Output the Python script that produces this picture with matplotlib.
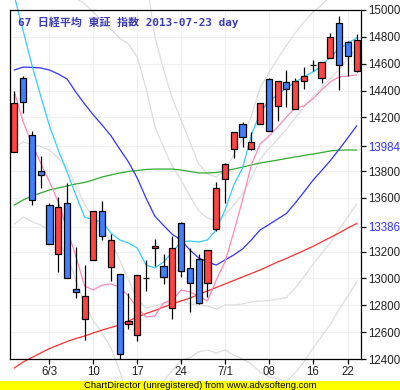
import matplotlib
matplotlib.use("Agg")
import matplotlib.pyplot as plt
from matplotlib.patches import Rectangle
import numpy as np

# ---- data ----
opens  = [13940, 14491, 14067, 13798, 13545, 13180, 13560, 12924, 12696, 13137,
          13500, 13083, 13031, 12658, 12577, 13007, 13225, 13093, 12780, 13411,
          13076, 13143, 12964, 13371, 13739, 13962, 14148, 13962, 14148, 14484,
          14287, 14461, 14265, 14469, 14590, 14491, 14640, 14905, 14764, 14546]
highs  = [14397, 14511, 14099, 13912, 13560, 13607, 13709, 13232, 13098, 13505,
          13579, 13331, 13031, 12889, 13024, 13137, 13294, 13180, 13316, 13421,
          13227, 13180, 13210, 13716, 13858, 14093, 14166, 14091, 14305, 14491,
          14469, 14553, 14491, 14573, 14628, 14610, 14826, 14955, 14771, 14821]
lows   = [13940, 14235, 13550, 13672, 13257, 13050, 13006, 12852, 12539, 13137,
          13286, 12983, 12402, 12621, 12536, 12909, 13093, 12956, 12696, 13013,
          12748, 12812, 12864, 13351, 13560, 13895, 13977, 13957, 14148, 14101,
          14175, 14280, 14265, 14414, 14548, 14454, 14640, 14404, 14511, 14536]
closes = [14305, 14317, 13585, 13769, 13257, 13532, 13006, 12899, 12869, 13505,
          13316, 13286, 12437, 12681, 13024, 13007, 13242, 13009, 13227, 13056,
          12964, 12819, 13210, 13672, 13850, 14093, 14052, 14014, 14305, 14101,
          14469, 14409, 14471, 14506, 14590, 14610, 14801, 14588, 14655, 14774]

line_cyan = [15104, 14844, 14590, 14359, 14136, 13957, 13793, 13622, 13458, 13436,
             13421, 13339, 13287, 13264, 13227, 13100, 13078, 13123, 13197, 13272,
             13279, 13272, 13287, 13361, 13510, 13696, 13823, 14069, 14233, 14322,
             14367, 14419, 14464, 14501, 14538, 14583, 14650, 14709, 14754, 14791]
line_pink = [14389, 14166, 14002, 13860, 13719, 13570, 13368, 13167, 12944, 12914,
             12951, 12959, 12936, 12869, 12780, 12713, 12720, 12817, 12840, 12914,
             12899, 12869, 12832, 12988, 13123, 13346, 13585, 13845, 14002, 14061,
             14128, 14203, 14270, 14285, 14337, 14404, 14464, 14501, 14508, 14516]
ma_blue = [14553, 14575, 14572, 14568, 14553, 14523, 14486, 14389, 14300, 14218,
           14143, 14064, 13964, 13868, 13748, 13599, 13465, 13395, 13328, 13287,
           13212, 13153, 13123, 13100, 13138, 13175, 13220, 13287, 13361, 13401,
           13443, 13484, 13562, 13644, 13730, 13803, 13878, 13961, 14048, 14136]
sd_blue = [574, 559, 574, 585, 596, 626, 656, 700, 745, 767,
           775, 790, 827, 879, 901, 820, 670, 581, 507, 447,
           402, 350, 328, 328, 335, 372, 410, 462, 529, 566,
           596, 626, 633, 633, 626, 618, 611, 596, 589, 581]
ma_green = [13547, 13585, 13614, 13637, 13659, 13674, 13689, 13704, 13715, 13734,
            13756, 13771, 13786, 13797, 13804, 13812, 13815, 13815, 13815, 13808,
            13797, 13786, 13786, 13789, 13801, 13815, 13830, 13845, 13860, 13871,
            13882, 13894, 13905, 13916, 13927, 13938, 13950, 13956, 13957, 13957]
ma_red = [12333, 12378, 12411, 12445, 12478, 12504, 12530, 12553, 12571, 12594,
          12616, 12635, 12653, 12683, 12713, 12739, 12761, 12787, 12810, 12832,
          12854, 12881, 12907, 12933, 12959, 12985, 13011, 13037, 13063, 13093,
          13123, 13149, 13179, 13208, 13238, 13272, 13305, 13339, 13376, 13409]

xtick_pos = [4, 9, 14, 19, 24, 29, 34, 38]
xtick_labels = ["6/3", "10", "17", "24", "7/1", "08", "16", "22"]
ytick_vals = [15000, 14800, 14600, 14400, 14200, 13984, 13800, 13600, 13386,
              13200, 13000, 12800, 12600, 12400]
ytick_blue = [13984, 13386]
title = "67 日経平均 東証 指数 2013-07-23 day"

# ---- figure ----
W, H = 400, 390
fig = plt.figure(figsize=(W / 100, H / 100), dpi=100)
fig.patch.set_facecolor("white")
ax = fig.add_axes([10 / W, 1 - 359 / H, 351 / W, 349 / H])
ax.set_xlim(-0.5, len(closes) - 0.5)
ax.set_ylim(12400, 15000)

x = np.arange(len(closes))
o = np.array(opens, float); c = np.array(closes, float)
hi = np.array(highs, float); lo = np.array(lows, float)

# grid
for yv in ytick_vals:
    ax.axhline(yv, color="#f0f0f0", lw=0.8, zorder=0)
for xv in xtick_pos:
    ax.axvline(xv, color="#f0f0f0", lw=0.8, zorder=0)

# indicator lines
mb = np.array(ma_blue, float); sd = np.array(sd_blue, float)
for k in (2, 1, -1, -2):
    ax.plot(x, mb + k * sd, color="#dddddd", lw=0.9, clip_on=False, zorder=1)
ax.plot(x, ma_red, color="#ff3030", lw=0.9, clip_on=False, zorder=1.5)
ax.plot(x, ma_green, color="#33aa33", lw=0.9, clip_on=False, zorder=1.5)
ax.plot(x, mb, color="#3333ff", lw=0.9, clip_on=False, zorder=1.5)
ax.plot(x, line_pink, color="#ff88bb", lw=0.9, clip_on=False, zorder=1.5)
ax.plot(x, line_cyan, color="#33ccff", lw=0.9, clip_on=False, zorder=1.5)

# candles
ax.vlines(x, lo, hi, color="black", lw=0.9, zorder=3)
colors = []
for oo, cc in zip(o, c):
    if cc > oo:
        colors.append("#ff4444")
    elif cc < oo:
        colors.append("#4080ff")
    else:
        colors.append("black")
ax.bar(x, np.abs(c - o), bottom=np.minimum(o, c), width=0.7, color=colors,
       edgecolor="black", linewidth=0.9, zorder=4)

# axes styling
for s in ax.spines.values():
    s.set_color("black"); s.set_linewidth(0.9)
ax.yaxis.tick_right()
ax.set_yticks(ytick_vals)
ax.set_yticklabels([str(v) for v in ytick_vals])
for lab, v in zip(ax.get_yticklabels(), ytick_vals):
    lab.set_color("#3333ff" if v in ytick_blue else "#222222")
ax.set_xticks(xtick_pos)
ax.set_xticklabels(xtick_labels)
ax.tick_params(axis="both", direction="out", length=3.5, width=0.9, color="black",
               labelsize=8.3, pad=1.5)
for lab in ax.get_xticklabels() + ax.get_yticklabels():
    lab.set_family(["Liberation Sans", "DejaVu Sans"])
ax.tick_params(axis="x", colors="black", labelcolor="#222222")

fig.text(18 / W, 1 - 16 / H, title, color="#3c3cb4", fontsize=7.9, fontweight="bold",
         family=["DejaVu Sans Mono", "Noto Sans CJK JP"], ha="left", va="top")

# banner
fig.patches.append(Rectangle((0, 0), 1, 9.5 / H, transform=fig.transFigure,
                             facecolor="#ffff00", edgecolor="none", zorder=10))
fig.text(0.5, 4.5 / H, "ChartDirector (unregistered) from www.advsofteng.com",
         fontsize=6.8, family=["Liberation Sans", "DejaVu Sans"], ha="center",
         va="center", color="black", zorder=11)

fig.savefig("out.png", dpi=100)
